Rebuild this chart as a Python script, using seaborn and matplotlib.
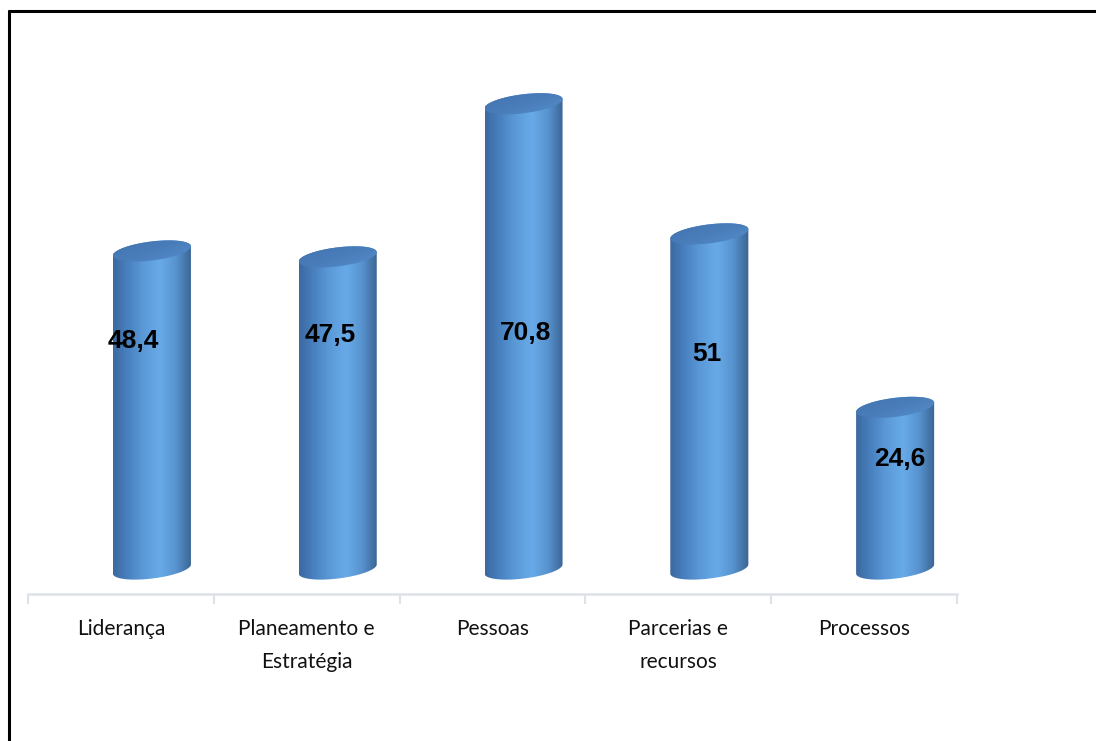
import numpy as np
import pandas as pd
import matplotlib
matplotlib.use("Agg")
import matplotlib.pyplot as plt
from matplotlib.colors import LinearSegmentedColormap
from matplotlib.patches import Polygon
from matplotlib.lines import Line2D
import seaborn as sns

# data
categories = ["Liderança", "Planeamento e\nEstratégia", "Pessoas", "Parcerias e\nrecursos", "Processos"]
values = [48.4, 47.5, 70.8, 51, 24.6]
value_labels = ["48,4", "47,5", "70,8", "51", "24,6"]

# where the value labels sit (x shift in bar widths, y in data units)
label_dx = [-0.24, -0.09, 0.03, -0.03, 0.06]
label_y = [34.7, 35.6, 35.9, 32.7, 16.7]

sns.set_style("white")
plt.rcParams['font.family'] = ['Lato', 'DejaVu Sans']

W, H = 1096, 741
fig = plt.figure(figsize=(W / 100, H / 100), dpi=100)
ax = fig.add_axes([28 / W, (H - 594) / H, (957 - 28) / W, (594 - 40) / H])

df = pd.DataFrame({"categoria": categories, "valor": values})
sns.barplot(data=df, x="categoria", y="valor", width=0.42, color="#5b9bd5", ax=ax)

side_cmap = LinearSegmentedColormap.from_list(
    "side", ["#3b69a0", "#4a82c1", "#5c9bd9", "#68aae8", "#5793cf", "#3a6391"])
top_cmap = LinearSegmentedColormap.from_list("top", ["#4172ab", "#497dba", "#5690cd"])

b = 1.45      # half height of the ellipses (data units)
sh = 0.7      # tilt of the ellipses
offset = 0.167

for p, v in zip(ax.patches, values):
    p.set_x(p.get_x() + offset)
    p.set_visible(False)
    a = p.get_width() / 2
    cx = p.get_x() + a

    # body outline: lower arc of the base, upper arc of the top
    t1 = np.linspace(np.pi, 2 * np.pi, 60)
    t2 = np.linspace(0, np.pi, 60)
    xs = np.concatenate([cx + a * np.cos(t1), cx + a * np.cos(t2)])
    ys = np.concatenate([b * np.sin(t1) + sh * np.cos(t1), v + b * np.sin(t2) + sh * np.cos(t2)])
    body = Polygon(np.column_stack([xs, ys]), closed=True, transform=ax.transData)
    grad = np.linspace(0, 1, 256).reshape(1, -1)
    im = ax.imshow(grad, cmap=side_cmap, aspect="auto", interpolation="bicubic",
                   extent=[cx - a, cx + a, -b - sh - 1, v + b + sh + 1], zorder=2)
    im.set_clip_path(body)

    # top face
    t = np.linspace(0, 2 * np.pi, 120)
    top = Polygon(np.column_stack([cx + a * np.cos(t), v + b * np.sin(t) + sh * np.cos(t)]),
                  closed=True, transform=ax.transData)
    gx, gy = np.meshgrid(np.linspace(0, 1, 64), np.linspace(0, 1, 16))
    im2 = ax.imshow((gx + gy) / 2, cmap=top_cmap, aspect="auto", interpolation="bicubic",
                    extent=[cx - a, cx + a, v - b - sh, v + b + sh], zorder=3)
    im2.set_clip_path(top)

for p, lab, dx, ly in zip(ax.patches, value_labels, label_dx, label_y):
    ax.text(p.get_x() + p.get_width() * (0.5 + dx), ly, lab, ha="center", va="center",
            fontsize=19, fontweight="bold", color="black",
            family=["Liberation Sans", "DejaVu Sans"], zorder=5)

ax.set_xlim(-0.5, 4.5)
ax.set_ylim(-3.8, 80.5)
ax.set_xlabel("")
ax.set_ylabel("")
ax.set_yticks([])
ax.set_xticks(range(len(categories)))
ax.set_xticklabels(categories, fontsize=15, linespacing=1.8, color="#111111")
ax.set_xticks(np.arange(-0.5, len(categories), 1), minor=True)
ax.tick_params(axis="x", which="major", bottom=False, length=0, pad=18)
ax.tick_params(axis="x", which="minor", bottom=True, length=7, width=1.5,
               color="#dde1e8", direction="out")
for s in ["top", "right", "left"]:
    ax.spines[s].set_visible(False)
ax.spines["bottom"].set_color("#dde1e8")
ax.spines["bottom"].set_linewidth(1.8)

# frame of the chart area (only top and left show in the picture)
fig.add_artist(Line2D([8 / W, 1], [1 - 11 / H, 1 - 11 / H], transform=fig.transFigure,
                      color="black", lw=2.2, solid_capstyle="butt"))
fig.add_artist(Line2D([9 / W, 9 / W], [0, 1 - 10 / H], transform=fig.transFigure,
                      color="black", lw=2.2, solid_capstyle="butt"))

fig.savefig("out.png", dpi=100)
